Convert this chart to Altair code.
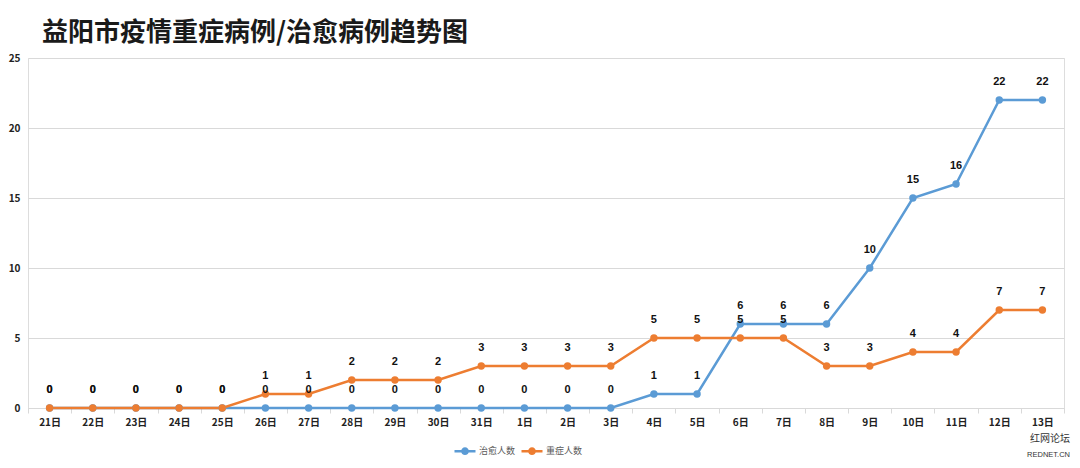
import altair as alt
import pandas as pd

dates = ["21日", "22日", "23日", "24日", "25日", "26日", "27日", "28日", "29日", "30日", "31日",
         "1日", "2日", "3日", "4日", "5日", "6日", "7日", "8日", "9日", "10日", "11日", "12日", "13日"]
cured = [0, 0, 0, 0, 0, 0, 0, 0, 0, 0, 0, 0, 0, 0, 1, 1, 6, 6, 6, 10, 15, 16, 22, 22]
severe = [0, 0, 0, 0, 0, 1, 1, 2, 2, 2, 3, 3, 3, 3, 5, 5, 5, 5, 3, 3, 4, 4, 7, 7]
series_names = ["治愈人数", "重症人数"]
colors = ["#5B9BD5", "#ED7D31"]
title_text = "益阳市疫情重症病例/治愈病例趋势图"
watermark = ["红网论坛", "REDNET.CN"]

rows = []
for i, d in enumerate(dates):
    rows.append({"date": d, "series": series_names[0], "value": cured[i], "order": 0})
    rows.append({"date": d, "series": series_names[1], "value": severe[i], "order": 1})
df = pd.DataFrame(rows)

FONT = "Noto Sans CJK SC"
LEGEND_SYMBOL = "M-1,0H1M-0.25,0A0.25,0.25 0 1,1 0.25,0A0.25,0.25 0 1,1 -0.25,0Z"

x_enc = alt.X("date:N", sort=dates, bandPosition=0.5,
              scale=alt.Scale(type="band", paddingInner=0, paddingOuter=0),
              axis=alt.Axis(title=None, labelAngle=0, labelFontWeight="bold", labelFontSize=10,
                            labelColor="#222222", domainColor="#d9d9d9", tickColor="#d9d9d9",
                            tickBand="extent", tickSize=5, labelPadding=4, grid=False))
y_enc = alt.Y("value:Q", scale=alt.Scale(domain=[0, 25], nice=False),
              axis=alt.Axis(title=None, values=[0, 5, 10, 15, 20, 25], labelFontWeight="bold",
                            labelFontSize=10, labelColor="#222222", domain=False, ticks=False,
                            gridColor="#d9d9d9", labelPadding=8))
color_enc = alt.Color("series:N", sort=series_names,
                      scale=alt.Scale(domain=series_names, range=colors),
                      legend=alt.Legend(title=None, orient="none", legendX=425, legendY=381,
                                        direction="horizontal", symbolType=LEGEND_SYMBOL,
                                        symbolStrokeWidth=2.5, symbolSize=441,
                                        labelFontSize=9, labelColor="#595959", labelFont=FONT,
                                        columnPadding=0, symbolOffset=0, labelOffset=2))

base = alt.Chart(df)

lines = base.mark_line(strokeWidth=2.5, point=alt.OverlayMarkDef(size=55, filled=True)).encode(
    x=x_enc, y=y_enc, color=color_enc, order=alt.Order("order:Q")
)

labels = base.mark_text(dy=-18, fontWeight="bold", fontSize=11, color="#111111", font="Liberation Sans").encode(
    x=alt.X("date:N", sort=dates, bandPosition=0.5), y="value:Q", text="value:Q"
)

title_df = pd.DataFrame({"t": [title_text]})
title = alt.Chart(title_df).mark_text(align="left", baseline="middle", fontSize=26, font=FONT,
                                      fontWeight="bold", color="#1a1a1a").encode(
    x=alt.value(14), y=alt.value(-25), text="t:N"
)

wm1 = alt.Chart(pd.DataFrame({"t": [watermark[0]]})).mark_text(
    align="right", baseline="middle", fontSize=10, font=FONT, color="#333333"
).encode(x=alt.value(1042), y=alt.value(381), text="t:N")
wm2 = alt.Chart(pd.DataFrame({"t": [watermark[1]]})).mark_text(
    align="right", baseline="middle", fontSize=7.5, font="Liberation Sans", color="#333333"
).encode(x=alt.value(1042), y=alt.value(397), text="t:N")

chart = alt.layer(lines, labels, title, wm1, wm2).properties(
    width=1036, height=350,
    autosize=alt.AutoSizeParams(type="none"),
    padding={"left": 20, "top": 50, "right": 8, "bottom": 52},
).configure_view(stroke=None).configure(font=FONT)

chart.save("out.html", embed_options={"renderer": "svg", "actions": False})
